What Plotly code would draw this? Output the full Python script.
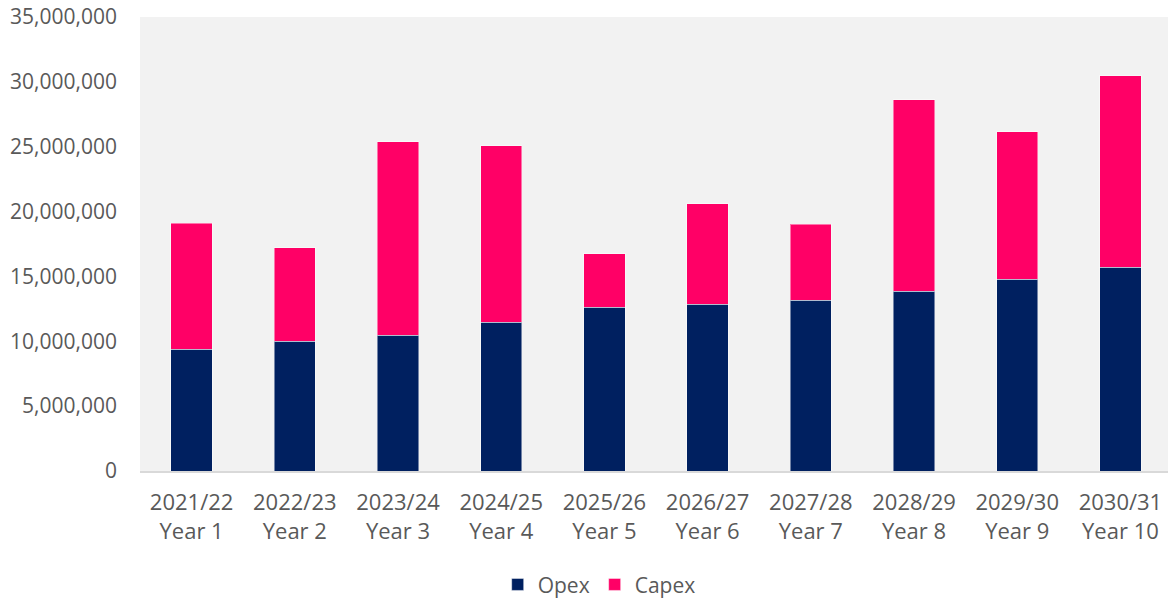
import plotly.graph_objects as go

# Financial years and their labels
years = ["2021/22", "2022/23", "2023/24", "2024/25", "2025/26",
         "2026/27", "2027/28", "2028/29", "2029/30", "2030/31"]
year_numbers = ["Year 1", "Year 2", "Year 3", "Year 4", "Year 5",
                "Year 6", "Year 7", "Year 8", "Year 9", "Year 10"]

# Annual spend by type
opex = [9380000, 10000000, 10460000, 11460000, 12620000,
        12870000, 13150000, 13850000, 14800000, 15720000]
capex = [9730000, 7230000, 14910000, 13610000, 4130000,
         7730000, 5860000, 14760000, 11340000, 14740000]

categories = [f"{y}<br>{n}" for y, n in zip(years, year_numbers)]

FONT = "Open Sans"
TEXT = "#595959"

fig = go.Figure()
fig.add_trace(go.Bar(
    name="Opex", x=categories, y=opex,
    marker=dict(color="#002060", line=dict(color="rgba(255,255,255,0.45)", width=1)),
))
fig.add_trace(go.Bar(
    name="Capex", x=categories, y=capex,
    marker=dict(color="#FF0066", line=dict(color="rgba(255,255,255,0.45)", width=1)),
))

fig.update_layout(
    barmode="stack",
    bargap=0.6,
    width=1168, height=601,
    margin=dict(l=140, r=0, t=17, b=130, autoexpand=False),
    paper_bgcolor="white",
    plot_bgcolor="#F2F2F2",
    font=dict(family=FONT, size=21, color=TEXT),
    showlegend=True,
    legend=dict(orientation="h", xref="container", yref="container",
                x=0.513, xanchor="center", y=0.027, yanchor="middle",
                font=dict(family=FONT, size=21, color=TEXT),
                itemwidth=30, traceorder="normal"),
)
fig.update_xaxes(
    range=[-0.5, 9.461],
    showline=True, linecolor="#D9D9D9", linewidth=2,
    ticks="", ticklabelstandoff=11, automargin=False,
    tickfont=dict(family=FONT, size=22, color=TEXT),
    showgrid=False,
)
fig.update_yaxes(
    range=[0, 35000000], tickvals=list(range(0, 35000001, 5000000)),
    tickformat=",d", showgrid=False, zeroline=False, showline=False,
    ticks="", ticklabelstandoff=22, automargin=False,
    tickfont=dict(family=FONT, size=21, color=TEXT),
)

fig.write_html("out.html")
